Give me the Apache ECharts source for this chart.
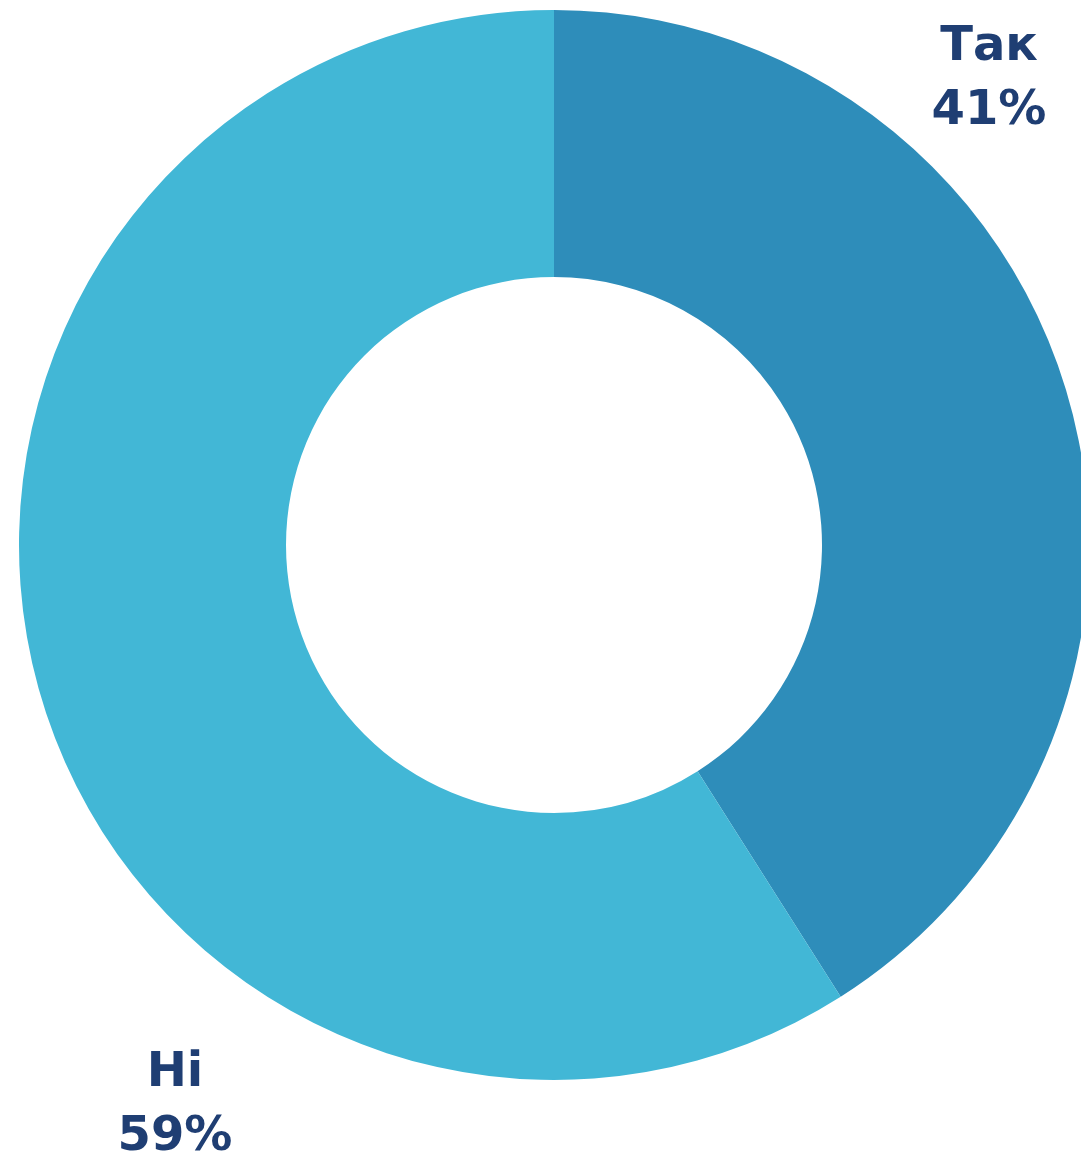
<!DOCTYPE html>
<html>
<head>
<meta charset="utf-8">
<style>
html,body{margin:0;padding:0;background:#fff;}
#chart{width:1081px;height:1159px;}
</style>
<script src="https://cdn.jsdelivr.net/npm/echarts@6/dist/echarts.min.js"></script>
</head>
<body>
<div id="chart"></div>
<script>
const categories = ['Так', 'Ні'];
const values = [41, 59];
const colors = ['#2E8DBA', '#42B7D6'];
const labelSpots = [[989, 80], [175, 1106]];

const chart = echarts.init(document.getElementById('chart'), null, {renderer: 'canvas'});
chart.setOption({
  animation: false,
  series: [{
    type: 'pie',
    center: [554, 545],
    radius: [268, 535],
    startAngle: 90,
    clockwise: true,
    silent: true,
    avoidLabelOverlap: false,
    data: categories.map((c, i) => ({name: c, value: values[i], itemStyle: {color: colors[i]}})),
    label: {
      show: true,
      position: 'inside',
      formatter: p => p.name + '\n' + p.value + '%',
      color: '#1F3E73',
      fontFamily: 'DejaVu Sans',
      fontWeight: 'bold',
      fontSize: 48,
      lineHeight: 64,
      align: 'center',
      textBorderWidth: 0
    },
    labelLine: {show: false},
    labelLayout: p => ({x: labelSpots[p.dataIndex][0], y: labelSpots[p.dataIndex][1], align: 'center', verticalAlign: 'middle', hideOverlap: false})
  }]
});
</script>
</body>
</html>
